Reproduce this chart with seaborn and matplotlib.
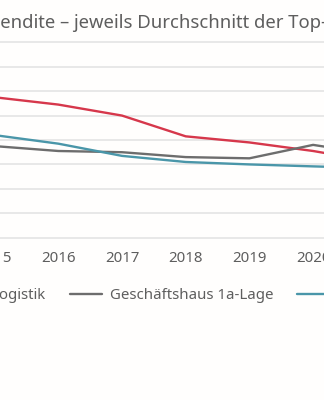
import matplotlib
matplotlib.use("Agg")
import matplotlib.pyplot as plt
import seaborn as sns
import pandas as pd

# Spitzenrenditen in % (Durchschnitt der Top-7-Standorte)
years = [2015, 2016, 2017, 2018, 2019, 2020, 2021]
logistik = [5.75, 5.45, 5.0, 4.15, 3.9, 3.55, 3.1]
geschaeftshaus = [3.75, 3.55, 3.5, 3.3, 3.25, 3.8, 3.4]
buero = [4.2, 3.85, 3.35, 3.1, 3.0, 2.92, 2.85]
segments = ["Logistik", "Geschäftshaus 1a-Lage", "Büro"]
colors = ["#d6374b", "#6d6d6d", "#4a96a9"]
y_ticks = list(range(0, 9))
title = "Spitzenrendite – jeweils Durchschnitt der Top-7"

df = pd.DataFrame({
    "Jahr": years * 3,
    "Rendite": logistik + geschaeftshaus + buero,
    "Segment": [segments[0]] * len(years) + [segments[1]] * len(years) + [segments[2]] * len(years),
})

sns.set_style("white")
plt.rcParams["font.family"] = ["Noto Sans", "DejaVu Sans"]
text_color = "#5e5e5e"
bg = "#fffefd"

W, H = 324, 400
fig = plt.figure(figsize=(W / 100, H / 100), dpi=100, facecolor=bg)

# plot area wider than the canvas: a detail view of the full chart
px_per_year = 63.7
x_2015 = -5.4
ax_left_px, ax_right_px = -120, 444
px_per_unit = 24.43
ypad = 0.05
y0_px = 237.7 + ypad * px_per_unit
y1_px = 42.3 - ypad * px_per_unit
ax = fig.add_axes([ax_left_px / W, (H - y0_px) / H,
                   (ax_right_px - ax_left_px) / W, (y0_px - y1_px) / H])
ax.set_facecolor(bg)

sns.lineplot(data=df, x="Jahr", y="Rendite", hue="Segment", hue_order=segments,
             palette=colors, linewidth=1.7, ax=ax)

ax.set_xlim(2015 + (ax_left_px - x_2015) / px_per_year,
            2015 + (ax_right_px - x_2015) / px_per_year)
ax.set_ylim(-ypad, 8 + ypad)
ax.set_xticks(years)
ax.set_xticklabels([str(y) for y in years])
ax.set_yticks(y_ticks)
ax.set_yticklabels([])
ax.grid(axis="y", color="#e4e4e4", linewidth=1.2)
ax.grid(axis="x", visible=False)
ax.set_axisbelow(True)
for s in ax.spines.values():
    s.set_visible(False)
ax.tick_params(axis="x", length=0, pad=9, labelsize=10.8, labelcolor=text_color)
ax.tick_params(axis="y", length=0)
ax.set_xlabel("")
ax.set_ylabel("")

handles, labels = ax.get_legend_handles_labels()
ax.get_legend().remove()
leg = fig.legend(handles, labels, loc="center left", bbox_to_anchor=(-47 / W, 1 - 295.5 / H),
                 ncol=3, frameon=False, fontsize=10.8, labelcolor=text_color,
                 handlelength=2.1, handletextpad=0.55, columnspacing=1.6,
                 borderpad=0, borderaxespad=0)
for ln in leg.get_lines():
    ln.set_linewidth(1.7)

title_size = 13.3
ttl = fig.text(0, 1 - 28.3 / H, title, fontsize=title_size, color=text_color,
               ha="left", va="baseline")

# align the title and legend to the detail window
fig.canvas.draw()
r = fig.canvas.get_renderer()
probe = fig.text(0, 0, "Spitzenr", fontsize=title_size)
pw = probe.get_window_extent(r).width
probe.remove()
ttl.set_x(-pw / W)

gray_handle = leg.get_lines()[1]
hx = gray_handle.get_window_extent(r).x0
dx = 70 - hx
leg.set_bbox_to_anchor((-47 / W + dx / W, 1 - 295.5 / H), transform=fig.transFigure)

fig.savefig("out.png", dpi=100, facecolor=bg)
